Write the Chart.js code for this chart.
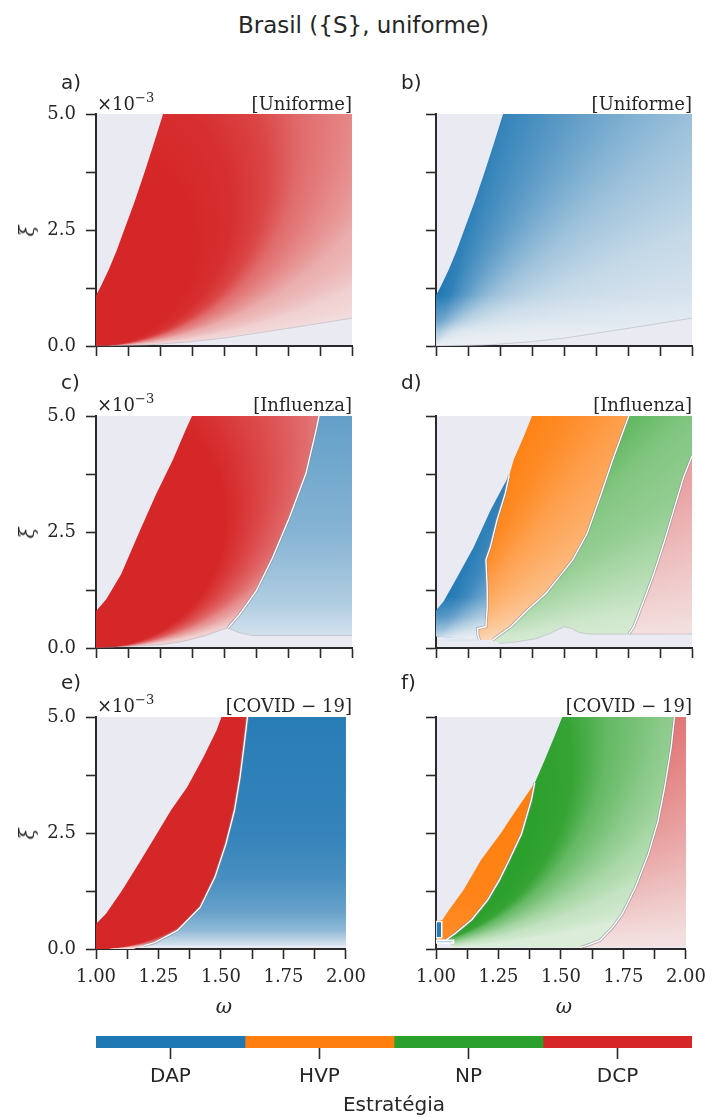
<!DOCTYPE html>
<html>
<head>
<meta charset="utf-8">
<script src="https://cdn.jsdelivr.net/npm/chart.js@4.4.1/dist/chart.umd.min.js"></script>
<style>
  body { margin: 0; background: #fff; }
  #fig { position: relative; width: 713px; height: 1118px; overflow: hidden; background: #fff; }
  #fig canvas { position: absolute; }
  .txt { position: absolute; white-space: nowrap; line-height: 1; color: #262626; }
  .sans { font-family: 'DejaVu Sans', sans-serif; }
  .serif { font-family: 'DejaVu Serif', serif; }
  .ital { font-style: italic; }
</style>
</head>
<body>
<div id="fig"></div>
<script>
// ---- axes: ω along x, ξ (×10⁻³) along y ----
const omegaTickValues = [1.0, 1.125, 1.25, 1.375, 1.5, 1.625, 1.75, 1.875, 2.0];
const omegaLabelled = [1.0, 1.25, 1.5, 1.75, 2.0];
const xiTickValues = [0.0, 1.25, 2.5, 3.75, 5.0];
const xiLabelled = [0.0, 2.5, 5.0];

const strategies = ['DAP', 'HVP', 'NP', 'DCP'];
const strategyShare = [1, 1, 1, 1];
const scenarioNames = ['[Uniforme]', '[Influenza]', '[COVID − 19]'];
const panelLetters = ['a)', 'b)', 'c)', 'd)', 'e)', 'f)'];

// ---- region boundaries, [ω, ξ] ----
// uniforme (a, b)
const uniEdge = [[1.0, 1.09], [1.02, 1.3], [1.05, 1.65], [1.08, 2.05], [1.11, 2.5], [1.15, 3.1], [1.19, 3.75], [1.225, 4.35], [1.262, 5.0]];
const uniFloor = [[1.0, 0.0], [1.2, 0.02], [1.365, 0.09], [1.5, 0.17], [1.75, 0.38], [2.0, 0.6]];

// influenza, DCP + DAP (c)
const fluEdge = [[1.0, 0.79], [1.04, 1.05], [1.098, 1.59], [1.17, 2.51], [1.235, 3.32], [1.3, 4.05], [1.35, 4.7], [1.375, 5.0]];
const fluRedBlue = [[1.515, 0.43], [1.56, 0.72], [1.626, 1.23], [1.69, 1.95], [1.756, 2.82], [1.82, 3.76], [1.86, 4.7], [1.871, 5.0]];
const fluRedFloor = [[1.0, 0.0], [1.25, 0.07], [1.34, 0.14], [1.43, 0.27], [1.495, 0.4], [1.515, 0.43]];
const fluBlueFloor = [[1.515, 0.43], [1.56, 0.33], [1.61, 0.27], [2.0, 0.27]];

// influenza, all four strategies (d)
const dBlueEdge = [[1.0, 0.81], [1.03, 1.01], [1.082, 1.52], [1.147, 2.17], [1.212, 2.96], [1.264, 3.5], [1.286, 3.72]];
const dBlueOrange = [[1.17, 0.17], [1.163, 0.3], [1.163, 0.42], [1.195, 0.46], [1.2, 0.87], [1.2, 1.3], [1.195, 1.9], [1.212, 2.17], [1.238, 2.75], [1.27, 3.32], [1.286, 3.72]];
const dOrangeEdge = [[1.286, 3.72], [1.303, 4.05], [1.342, 4.55], [1.375, 5.0]];
const dOrangeGreen = [[1.221, 0.17], [1.247, 0.28], [1.293, 0.46], [1.358, 0.82], [1.43, 1.18], [1.482, 1.54], [1.534, 1.9], [1.59, 2.46], [1.645, 3.32], [1.69, 4.05], [1.733, 4.7], [1.753, 5.0]];
const dGreenFloor = [[1.247, 0.1], [1.312, 0.13], [1.39, 0.2], [1.44, 0.3], [1.5, 0.46], [1.53, 0.42], [1.56, 0.33], [1.6, 0.3], [1.753, 0.3]];
const dGreenPink = [[1.753, 0.3], [1.772, 0.45], [1.811, 1.01], [1.85, 1.59], [1.889, 2.24], [1.928, 2.96], [1.967, 3.68], [2.0, 4.14]];
const dStrip = [[1.02, 0.14], [1.156, 0.14], [1.156, 0.19], [1.02, 0.19]];

// covid-19, DCP + DAP (e)
const covEdge = [[1.0, 0.54], [1.04, 0.76], [1.104, 1.26], [1.17, 1.83], [1.235, 2.41], [1.3, 2.99], [1.365, 3.49], [1.43, 4.14], [1.482, 4.71], [1.502, 5.0]];
const covRedBlue = [[1.19, 0.07], [1.235, 0.14], [1.326, 0.4], [1.417, 0.9], [1.476, 1.55], [1.52, 2.27], [1.554, 2.99], [1.576, 3.7], [1.593, 4.42], [1.606, 5.0]];

// covid-19, all four strategies (f)
const fBlueBox = [[1.0, 0.24], [1.023, 0.24], [1.023, 0.59], [1.0, 0.59]];
const fBlueStrip = [[1.0, 0.13], [1.07, 0.13], [1.07, 0.19], [1.0, 0.19]];
const fOrangeEdge = [[1.0, 0.6], [1.026, 0.63], [1.052, 0.84], [1.11, 1.27], [1.18, 1.92], [1.26, 2.5], [1.31, 2.91], [1.395, 3.58]];
const fOrangeGreen = [[1.039, 0.19], [1.078, 0.34], [1.143, 0.63], [1.207, 1.06], [1.254, 1.49], [1.293, 1.92], [1.342, 2.48], [1.381, 3.2], [1.395, 3.58]];
const fGreenEdge = [[1.395, 3.58], [1.434, 4.06], [1.473, 4.57], [1.505, 5.0]];
const fGreenPink = [[1.58, 0.04], [1.6, 0.07], [1.655, 0.18], [1.707, 0.47], [1.746, 0.76], [1.798, 1.33], [1.85, 2.05], [1.889, 2.77], [1.915, 3.49], [1.941, 4.35], [1.954, 5.0]];

// ---- closed shapes built from the boundaries ----
const rev = (a) => a.slice().reverse();
const polyUni = [...uniEdge, [2.0, 5.0], ...rev(uniFloor)];
const polyCRed = [...fluEdge, ...rev(fluRedBlue), ...rev(fluRedFloor)];
const polyCBlue = [...fluRedBlue, [2.0, 5.0], ...rev(fluBlueFloor)];
const polyDBlue = [[1.0, 0.25], ...dBlueEdge, ...rev(dBlueOrange)];
const polyDOrange = [...dBlueOrange, ...dOrangeEdge.slice(1), ...rev(dOrangeGreen)];
const polyDGreen = [...dOrangeGreen, [2.0, 5.0], ...rev(dGreenPink), ...rev(dGreenFloor)];
const polyDPink = [...dGreenPink, [2.0, 0.3]];
const polyERed = [[1.0, 0.0], ...covEdge, ...rev(covRedBlue), [1.15, 0.0]];
const polyEBlue = [...covRedBlue, [2.0, 5.0], [2.0, 0.07]];
const polyFOrange = [[1.0, 0.21], ...fOrangeEdge, ...rev(fOrangeGreen)];
const polyFGreen = [[1.07, 0.05], [1.039, 0.19], ...fOrangeGreen.slice(1), ...fGreenEdge.slice(1), ...rev(fGreenPink)];
const polyFPink = [...fGreenPink, [2.0, 5.0], [2.0, 0.06]];

// ---- styling ----
const INK = '#2a2a2a';
const PANEL_BG = '#eaeaf2';
const C = { DAP: [31, 119, 180], HVP: [255, 127, 14], NP: [44, 160, 44], DCP: [214, 39, 40] };
const PAPER = { DAP: [236, 240, 244], HVP: [250, 238, 228], NP: [234, 244, 232], DCP: [245, 236, 236] };
const strategyColors = strategies.map((s) => `rgb(${C[s].join(',')})`);
const mix = (c, p, f) => `rgb(${c.map((v, i) => Math.round(v + (p[i] - v) * f)).join(',')})`;
const veilColor = (p, a) => `rgba(${p.join(',')},${a})`;

// Gradient fills, resolved against the chart's own scales.
// ring: circles tangent to ξ=0 at `at`, radius r in px; fan: angle (deg) around `at`; otherwise linear between two points.
function shade(s) {
  return (context) => {
    const chart = context.chart;
    if (!chart.chartArea) return null;
    const xs = chart.scales.x, ys = chart.scales.y, g = chart.ctx;
    const px = (p) => [xs.getPixelForValue(p[0]), ys.getPixelForValue(p[1])];
    const col = (f) => (s.veil ? veilColor(PAPER[s.k], f) : mix(C[s.k], PAPER[s.k], f));
    let grad;
    if (s.ring) {
      const [cx, cy] = px(s.at);
      grad = g.createRadialGradient(cx, cy - s.r0, s.r0, cx, cy - s.r1, s.r1);
      s.stops.forEach(([r, f]) => grad.addColorStop((r - s.r0) / (s.r1 - s.r0), col(f)));
    } else if (s.fan) {
      const [cx, cy] = px(s.at);
      grad = g.createConicGradient(-Math.PI / 2, cx, cy);
      s.stops.forEach(([deg, f]) => grad.addColorStop((90 - deg) / 360, col(f)));
      grad.addColorStop(1, col(s.stops[0][1]));
    } else {
      const [x0, y0] = px(s.from), [x1, y1] = px(s.to);
      grad = g.createLinearGradient(x0, y0, x1, y1);
      s.stops.forEach(([t, f]) => grad.addColorStop(t, col(f)));
    }
    return grad;
  };
}

const pts = (arr) => arr.map(([x, y]) => ({ x, y }));
const region = (poly, fill, order = 6) => ({ data: pts(poly), fill: 'shape', backgroundColor: fill, borderColor: 'transparent', borderWidth: 0, pointRadius: 0, order });
const hair = (path) => ({ data: pts(path), fill: false, borderColor: 'rgba(150,145,160,0.35)', borderWidth: 1, pointRadius: 0, order: 3 });
const divider = (path) => [
  { data: pts(path), fill: false, borderColor: 'rgba(140,140,150,0.6)', borderWidth: 3, pointRadius: 0, order: 2 },
  { data: pts(path), fill: false, borderColor: '#ffffff', borderWidth: 1.3, pointRadius: 0, order: 1 }
];
const outline = (poly) => ({ data: pts([...poly, poly[0]]), fill: false, borderColor: '#ffffff', borderWidth: 1.5, pointRadius: 0, order: 1 });

const panels = [
  [ // a
    region(polyUni, shade({ k: 'DCP', ring: true, at: [1, 0], r0: 100, r1: 1200,
      stops: [[100, 0], [135, 0.04], [170, 0.15], [205, 0.35], [260, 0.5], [340, 0.68], [600, 0.86], [1200, 0.94]] })),
    hair(uniFloor)
  ],
  [ // b
    region(polyUni, shade({ k: 'DAP', fan: true, at: [1, 0],
      stops: [[90, 0], [75, 0.08], [60, 0.3], [45, 0.55], [40, 0.63], [25, 0.8], [10, 0.9], [0, 0.94]] })),
    region(polyUni, shade({ k: 'DAP', veil: true, from: [1, 1.1], to: [1, 0], stops: [[0, 0], [0.5, 0.35], [0.75, 0.7], [1, 0.92]] }), 5),
    hair(uniFloor)
  ],
  [ // c
    region(polyCRed, shade({ k: 'DCP', ring: true, at: [1, 0], r0: 100, r1: 1000,
      stops: [[130, 0], [170, 0.18], [210, 0.35], [240, 0.5], [320, 0.72], [400, 0.85], [1000, 0.92]] })),
    region(polyCBlue, shade({ k: 'DAP', from: [1.5, 5], to: [1.5, 0.27], stops: [[0, 0.33], [0.53, 0.5], [0.85, 0.7], [1, 0.88]] })),
    ...divider(fluRedBlue), hair(fluRedFloor), hair(fluBlueFloor)
  ],
  [ // d
    region(polyDBlue, shade({ k: 'DAP', fan: true, at: [1, 0],
      stops: [[90, 0], [70, 0.05], [60, 0.15], [45, 0.4], [30, 0.65], [15, 0.85], [0, 0.92]] })),
    region(polyDBlue, shade({ k: 'DAP', veil: true, from: [1, 1.1], to: [1, 0.25], stops: [[0, 0], [0.5, 0.25], [0.8, 0.55], [1, 0.8]] }), 5),
    region(polyDOrange, shade({ k: 'HVP', fan: true, at: [1, 0],
      stops: [[90, 0], [70, 0], [60, 0.12], [50, 0.3], [40, 0.42], [25, 0.6], [15, 0.72], [5, 0.85], [0, 0.9]] })),
    region(polyDGreen, shade({ k: 'NP', fan: true, at: [1, 0],
      stops: [[90, 0.15], [60, 0.2], [49, 0.3], [42, 0.45], [31, 0.55], [24, 0.65], [10, 0.85], [0, 0.92]] })),
    region(polyDPink, shade({ k: 'DCP', fan: true, at: [1, 0],
      stops: [[90, 0.45], [45, 0.5], [36, 0.6], [18, 0.8], [5, 0.93], [0, 0.95]] })),
    region(dStrip, mix(C.DAP, PAPER.DAP, 0.92), 4),
    ...divider(dBlueOrange), ...divider(dOrangeGreen), ...divider(dGreenPink),
    hair([...dGreenFloor, [2.0, 0.3]])
  ],
  [ // e
    region(polyERed, shade({ k: 'DCP', ring: true, at: [1, 0], r0: 100, r1: 700,
      stops: [[160, 0], [200, 0.3], [240, 0.55], [300, 0.75], [400, 0.88], [700, 0.93]] })),
    region(polyEBlue, shade({ k: 'DAP', from: [1.8, 5], to: [1.8, 0.07],
      stops: [[0, 0.05], [0.507, 0.1], [0.71, 0.2], [0.852, 0.35], [0.933, 0.55], [1, 0.9]] })),
    ...divider(covRedBlue)
  ],
  [ // f
    region(polyFOrange, shade({ k: 'HVP', from: [1.2, 3.6], to: [1.2, 0.2], stops: [[0, 0], [0.7, 0.04], [1, 0.12]] })),
    region(polyFGreen, shade({ k: 'NP', ring: true, at: [0.805, 0], r0: 100, r1: 1000,
      stops: [[150, 0], [185, 0.05], [220, 0.3], [280, 0.5], [350, 0.65], [500, 0.8], [1000, 0.92]] })),
    region(polyFPink, shade({ k: 'DCP', fan: true, at: [1, 0],
      stops: [[90, 0.35], [45, 0.38], [24, 0.65], [17, 0.75], [4, 0.92], [0, 0.95]] })),
    region(fBlueBox, mix(C.DAP, PAPER.DAP, 0.05), 4),
    region(fBlueStrip, mix(C.DAP, PAPER.DAP, 0.72), 4),
    ...divider(fOrangeGreen), ...divider(fGreenPink),
    outline(fBlueBox), outline(fBlueStrip)
  ]
];

// ---- layout ----
const colLeft = [96, 436];
const rowTop = [114, 416, 717];
const PLOT_W = 256, PLOT_H = 232, AXIS_W = 60, PAD_T = 22, PAD_R = 22;
const xAxisH = [22, 22, 50];
const tickFont = { family: 'DejaVu Serif', size: 18 };

Chart.defaults.font.family = 'DejaVu Serif';
Chart.defaults.color = '#262626';

const fig = document.getElementById('fig');
function addCanvas(left, top, w, h) {
  const c = document.createElement('canvas');
  c.width = w; c.height = h;
  Object.assign(c.style, { left: left + 'px', top: top + 'px', width: w + 'px', height: h + 'px' });
  fig.appendChild(c);
  return c;
}
function addText(text, x, baseline, size, cls, align) {
  const d = document.createElement('div');
  d.className = 'txt ' + cls;
  d.textContent = text;
  d.style.fontSize = size + 'px';
  d.style.top = (baseline - 0.846 * size) + 'px';
  if (align === 'right') d.style.right = (713 - x) + 'px';
  else if (align === 'center') { d.style.left = x + 'px'; d.style.transform = 'translateX(-50%)'; }
  else d.style.left = x + 'px';
  fig.appendChild(d);
  return d;
}

const panelBackground = {
  id: 'panelBackground',
  beforeDraw(chart) {
    const { ctx, chartArea: a } = chart;
    ctx.save();
    ctx.fillStyle = PANEL_BG;
    ctx.fillRect(a.left, a.top, a.right - a.left, a.bottom - a.top);
    ctx.restore();
  }
};

function panelOptions(col, row) {
  const bottom = row === 2;
  const grid = { drawOnChartArea: false, drawTicks: true, tickLength: 10, tickColor: INK, tickWidth: 1.6 };
  const border = { display: true, color: INK, width: 2 };
  return {
    responsive: false, animation: false, events: [],
    layout: { padding: { top: PAD_T, right: PAD_R, left: 0, bottom: 0 } },
    plugins: { legend: { display: false }, tooltip: { enabled: false } },
    scales: {
      x: {
        type: 'linear', min: 1, max: 2, z: 1,
        afterBuildTicks: (s) => { s.ticks = omegaTickValues.map((v) => ({ value: v })); },
        afterFit: (s) => { s.height = xAxisH[row]; },
        ticks: { display: bottom, autoSkip: false, maxRotation: 0, padding: 8, font: tickFont, color: '#262626',
          callback: (v) => (omegaLabelled.includes(v) ? v.toFixed(2) : '') },
        grid, border
      },
      y: {
        type: 'linear', min: 0, max: 5, z: 1,
        afterBuildTicks: (s) => { s.ticks = xiTickValues.map((v) => ({ value: v })); },
        afterFit: (s) => { s.width = AXIS_W; },
        ticks: { display: col === 0, autoSkip: false, padding: 10, font: tickFont, color: '#262626',
          callback: (v) => (xiLabelled.includes(v) ? v.toFixed(1) : '') },
        grid, border
      }
    }
  };
}

panels.forEach((datasets, i) => {
  const col = i % 2, row = Math.floor(i / 2);
  const w = AXIS_W + PLOT_W + PAD_R, h = PAD_T + PLOT_H + xAxisH[row];
  const cv = addCanvas(colLeft[col] - AXIS_W, rowTop[row] - PAD_T, w, h);
  new Chart(cv, { type: 'line', data: { datasets }, options: panelOptions(col, row), plugins: [panelBackground] });

  const top = rowTop[row], left = colLeft[col];
  const headBase = [110, 411, 712][row];
  addText(panelLetters[i], left - 35, [89, 389, 689][row], 20, 'sans', 'left');
  addText(scenarioNames[row], left + PLOT_W, headBase, 18, 'serif', 'right');
  if (col === 0) {
    const m = addText('×10', left + 1, headBase, 18, 'serif', 'left');
    const sup = document.createElement('span');
    sup.textContent = '−3';
    Object.assign(sup.style, { fontSize: '13px', position: 'relative', top: '-8px' });
    m.appendChild(sup);
    const xi = addText('ξ', 27, 0, 20, 'serif ital', 'left');
    Object.assign(xi.style, { top: (top + PLOT_H / 2 + 1) + 'px', transform: 'translate(-50%,-50%) rotate(-90deg)' });
  }
  if (row === 2) addText('ω', left + PLOT_W / 2, 1013, 20, 'serif ital', 'center');
});

addText('Brasil ({S}, uniforme)', 363.5, 33, 23, 'sans', 'center');

// ---- strategy colour bar ----
const cb = addCanvas(96, 1036, 596, 82);
new Chart(cb, {
  type: 'bar',
  data: {
    labels: [''],
    datasets: strategies.map((s, i) => ({ label: s, data: [strategyShare[i]], backgroundColor: strategyColors[i],
      borderWidth: 0, barPercentage: 1, categoryPercentage: 1 }))
  },
  options: {
    indexAxis: 'y', responsive: false, animation: false, events: [],
    layout: { padding: 0 },
    plugins: { legend: { display: false }, tooltip: { enabled: false } },
    scales: {
      y: { stacked: true, display: false },
      x: {
        stacked: true, min: 0, max: strategyShare.reduce((a, b) => a + b, 0),
        afterBuildTicks: (s) => { let acc = 0; s.ticks = strategyShare.map((v) => { const t = { value: acc + v / 2 }; acc += v; return t; }); },
        afterFit: (s) => { s.height = 70; },
        ticks: { autoSkip: false, maxRotation: 0, padding: 6, font: { family: 'DejaVu Sans', size: 20 }, color: '#262626',
          callback: (v, i) => strategies[i] },
        grid: { drawOnChartArea: false, drawTicks: true, tickLength: 11, tickColor: INK, tickWidth: 1.6 },
        border: { display: false },
        title: { display: true, text: 'Estratégia', font: { family: 'DejaVu Sans', size: 20 }, color: '#262626', padding: { top: 0, bottom: 0 } }
      }
    }
  }
});
</script>
</body>
</html>
